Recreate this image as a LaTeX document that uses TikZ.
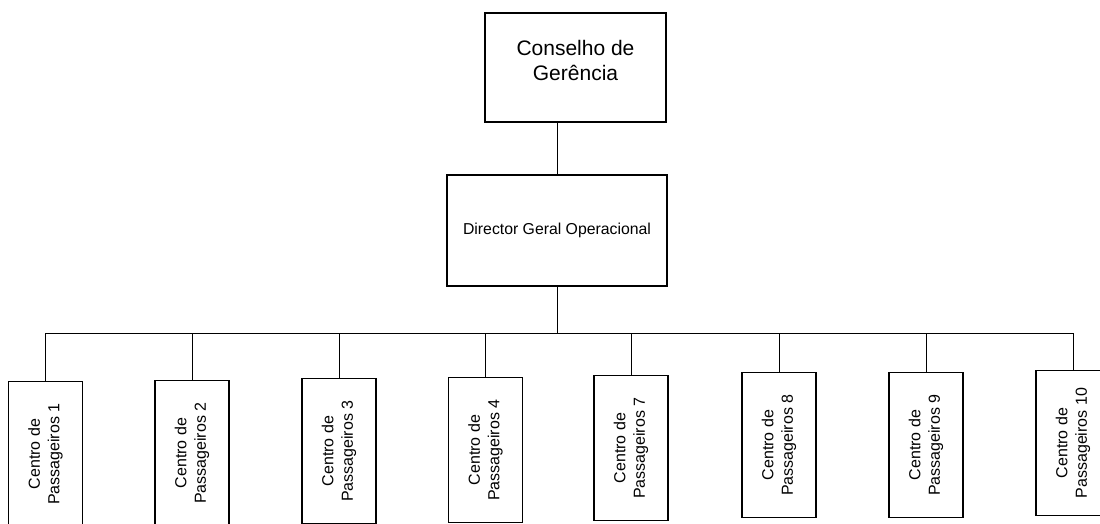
\documentclass[tikz,border=0pt]{standalone}
\usepackage{fontspec}
\setmainfont{Liberation Sans}
\usetikzlibrary{positioning}
\tikzstyle{topbox} = [
	rectangle,
	minimum width=181pt,
	minimum height=109pt,
	text depth=14pt,
	align=center,
	draw=black,
	line width=1.3pt,
	font=\fontsize{21}{25}\selectfont
]
\tikzstyle{midbox} = [
	rectangle,
	minimum width=220pt,
	minimum height=111pt,
	align=center,
	draw=black,
	line width=1.3pt,
	font=\fontsize{15.8}{18}\selectfont
]
\tikzstyle{centro} = [
	rectangle,
	rotate=90,
	anchor=east,
	minimum width=145pt,
	minimum height=74pt,
	inner sep=2pt,
	align=center,
	draw=black,
	line width=1.3pt,
	font=\fontsize{16}{19.5}\selectfont
]
\tikzstyle{link} = [line width=0.7pt]

\begin{document}
\begin{tikzpicture}[x=1pt, y=-1pt]
		\useasboundingbox (0,0) rectangle (1100,523);

		\node (conselho) [topbox] at (575.5,67.5) {Conselho de\\Gerência};
		\node (director) [midbox] at (557,230.5) {Director Geral Operacional};
		\coordinate (bus) at (557,333);

		\node (centro1) [centro] at (45.5,381) {Centro de\\Passageiros 1};
		\node (centro2) [centro] at (192,380) {Centro de\\Passageiros 2};
		\node (centro3) [centro] at (339,378) {Centro de\\Passageiros 3};
		\node (centro4) [centro] at (485.5,377) {Centro de\\Passageiros 4};
		\node (centro7) [centro] at (631,375) {Centro de\\Passageiros 7};
		\node (centro8) [centro] at (779,372) {Centro de\\Passageiros 8};
		\node (centro9) [centro] at (926,372) {Centro de\\Passageiros 9};
		\node (centro10) [centro] at (1073,370) {Centro de\\Passageiros 10};

		\draw [link] (conselho.south -| director.north) -- (director.north);
		\draw [link] (director.south) -- (bus);
		\draw [link] (centro1.east |- bus) -- (centro10.east |- bus);

		\draw [link] (centro1.east |- bus) -- (centro1.east);
		\draw [link] (centro2.east |- bus) -- (centro2.east);
		\draw [link] (centro3.east |- bus) -- (centro3.east);
		\draw [link] (centro4.east |- bus) -- (centro4.east);
		\draw [link] (centro7.east |- bus) -- (centro7.east);
		\draw [link] (centro8.east |- bus) -- (centro8.east);
		\draw [link] (centro9.east |- bus) -- (centro9.east);
		\draw [link] (centro10.east |- bus) -- (centro10.east);
	\end{tikzpicture}
\end{document}
